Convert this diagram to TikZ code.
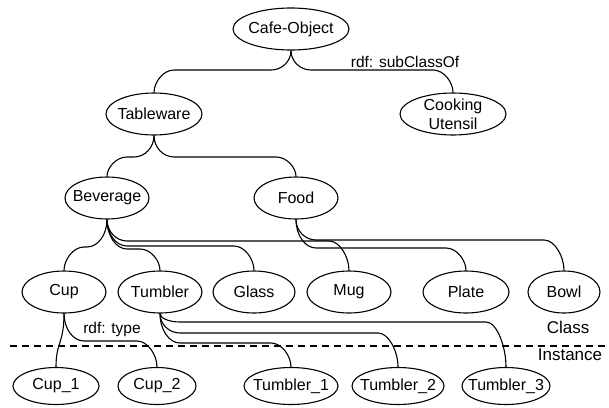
\documentclass[tikz,border=0pt]{standalone}
\usepackage{fontspec}
\setmainfont{Liberation Sans}
\usetikzlibrary{shapes.geometric,calc}
\def\hr{20pt}
\tikzset{
  cls/.style={draw,ellipse,line width=1.1pt,inner sep=-8pt,minimum width=#1,minimum height=42pt},
  cls/.default=84pt,
  ind/.style={cls=#1,minimum height=37pt},
  ind/.default=86pt,
  hang/.style={to path={let \p1=(\tikztostart), \p2=(\tikztotarget), \p3=(0,#1), \n1={sign(\x2-\x1)*\hr} in
    (\p1) .. controls (\x1,{\y1+0.55*(\y3-\y1)}) and ({\x1+0.45*\n1*1pt},\y3) .. ({\x1+\n1*1pt},\y3)
    -- ({\x2-\n1*1pt},\y3) .. controls ({\x2-0.45*\n1*1pt},\y3) and (\x2,{\y3+0.55*(\y2-\y3)}) .. (\p2)}},
  link/.style={line width=1.1pt},
  lbl/.style={inner sep=0pt,font=\fontsize{15.5}{18}\selectfont}
}
\begin{document}
\begin{tikzpicture}[x=1pt,y=-1pt,font=\fontsize{16}{19}\selectfont]
\useasboundingbox (0,0) rectangle (609,407);

\node[cls=116pt] (obj) at (291,29) {Cafe-Object};
\node[cls=96pt] (tab) at (154,114) {Tableware};
\node[cls=106pt,align=center] (cook) at (453,114) {Cooking\\Utensil};
\node[cls] (bev) at (107,198) {Beverage};
\node[cls] (food) at (296,198) {Food};

\node[cls] (cup) at (64,292) {Cup};
\node[cls] (tum) at (160,292) {Tumbler};
\node[cls=82pt] (glass) at (254,292) {Glass};
\node[cls] (mug) at (349,292) {Mug};
\node[cls=86pt] (plate) at (466,292) {Plate};
\node[cls=72pt] (bowl) at (564,292) {Bowl};

\node[ind] (cupa) at (56,386) {Cup\_1};
\node[ind=78pt] (cupb) at (157,386) {Cup\_2};
\node[ind=94pt] (tuma) at (291,386) {Tumbler\_1};
\node[ind=92pt] (tumb) at (398,386) {Tumbler\_2};
\node[ind=88pt] (tumc) at (506,386) {Tumbler\_3};

\draw[link] (obj.south) to[hang=70] (tab.north);
\draw[link] (obj.south) to[hang=70] (cook.north);
\draw[link] (tab.south) to[hang=157] (bev.north);
\draw[link] (tab.south) to[hang=157] (food.north);
\draw[link] (bev.south) to[hang=247] (cup.north);
\draw[link] (bev.south) to[hang=249] (tum.north);
\draw[link] (bev.south) to[hang=246] (glass.north);
\draw[link] (bev.south) to[hang=241] (mug.north);
\draw[link] (food.south) to[hang=248] (plate.north);
\draw[link] (food.south) to[hang=240] (bowl.north);
\draw[link] (cup.south) .. controls +(0,30) and +(0,-25) .. (cupa.north);
\draw[link] (cup.south) to[hang=341] (cupb.north);
\draw[link] (tum.south) to[hang=343] (tuma.north);
\draw[link] (tum.south) to[hang=333] (tumb.north);
\draw[link] (tum.south) to[hang=322] (tumc.north);

\draw[line width=1.4pt,dash pattern=on 7pt off 5pt] (10,346) -- (609,346);

\node[lbl] (sub) at (405,62) {rdf: subClassOf};
\node[lbl] (typ) at (112,329) {rdf: type};
\node[lbl,font=\fontsize{17}{20}\selectfont] (clsl) at (568,327) {Class};
\node[lbl,font=\fontsize{17}{20}\selectfont] (insl) at (570,355) {Instance};
\end{tikzpicture}
\end{document}
